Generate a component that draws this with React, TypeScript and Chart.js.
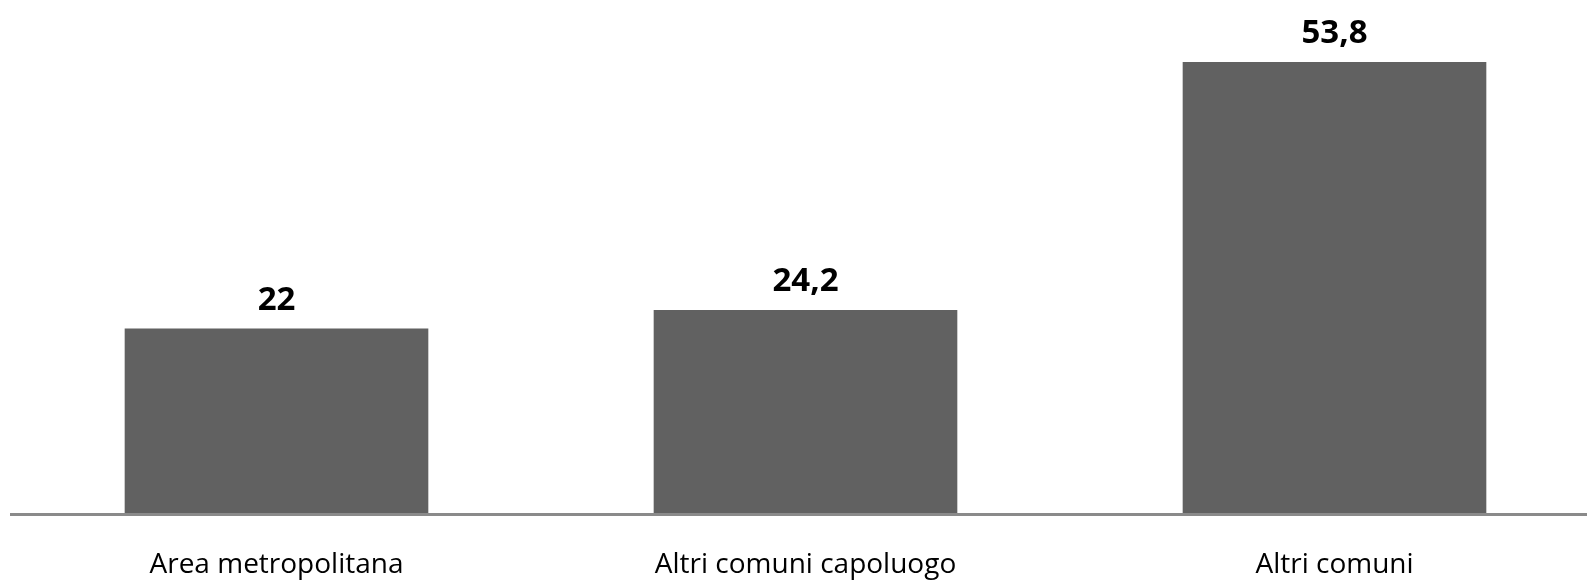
import React, { useEffect, useRef } from "react";
import { Chart, registerables } from "chart.js";

Chart.register(...registerables);

const categories: string[] = ["Area metropolitana", "Altri comuni capoluogo", "Altri comuni"];
const values: number[] = [22, 24.2, 53.8];
const valueLabels: string[] = ["22", "24,2", "53,8"];

const BAR_COLOR = "#616161";
const AXIS_COLOR = "#8a8a8a";

const labelPlugin = {
  id: "customLabels",
  afterDatasetsDraw(chart: any) {
    const ctx = chart.ctx;
    const meta = chart.getDatasetMeta(0);
    const area = chart.chartArea;
    ctx.save();
    // baseline
    ctx.strokeStyle = AXIS_COLOR;
    ctx.lineWidth = 3;
    ctx.beginPath();
    ctx.moveTo(10, area.bottom + 1.5);
    ctx.lineTo(chart.width, area.bottom + 1.5);
    ctx.stroke();
    meta.data.forEach((bar: any, i: number) => {
      ctx.fillStyle = "#000";
      ctx.textAlign = "center";
      ctx.textBaseline = "alphabetic";
      ctx.font = "bold 33px 'Open Sans'";
      ctx.fillText(valueLabels[i], bar.x, bar.y - 19);
      ctx.font = "28px 'Open Sans'";
      ctx.fillText(categories[i], bar.x, 573);
    });
    ctx.restore();
  },
};

export default function App() {
  const ref = useRef<HTMLCanvasElement>(null);
  useEffect(() => {
    if (!ref.current) return;
    const chart = new Chart(ref.current, {
      type: "bar",
      data: {
        labels: categories,
        datasets: [
          {
            data: values,
            backgroundColor: BAR_COLOR,
            borderWidth: 0,
            categoryPercentage: 1,
            barPercentage: 0.574,
          },
        ],
      },
      options: {
        animation: false,
        responsive: false,
        devicePixelRatio: 1,
        layout: { padding: { left: 12, right: 11, top: 10, bottom: 67 } },
        plugins: { legend: { display: false }, tooltip: { enabled: false } },
        scales: {
          x: { display: false },
          y: { display: false, min: 0, max: 60 },
        },
      },
      plugins: [labelPlugin],
    });
    return () => chart.destroy();
  }, []);
  return (
    <div style={{ position: "fixed", left: 0, top: 0, width: 1587, height: 580, overflow: "hidden", background: "#fff" }}>
      <canvas ref={ref} width={1610} height={580} style={{ display: "block", width: 1610, height: 580 }} />
    </div>
  );
}
